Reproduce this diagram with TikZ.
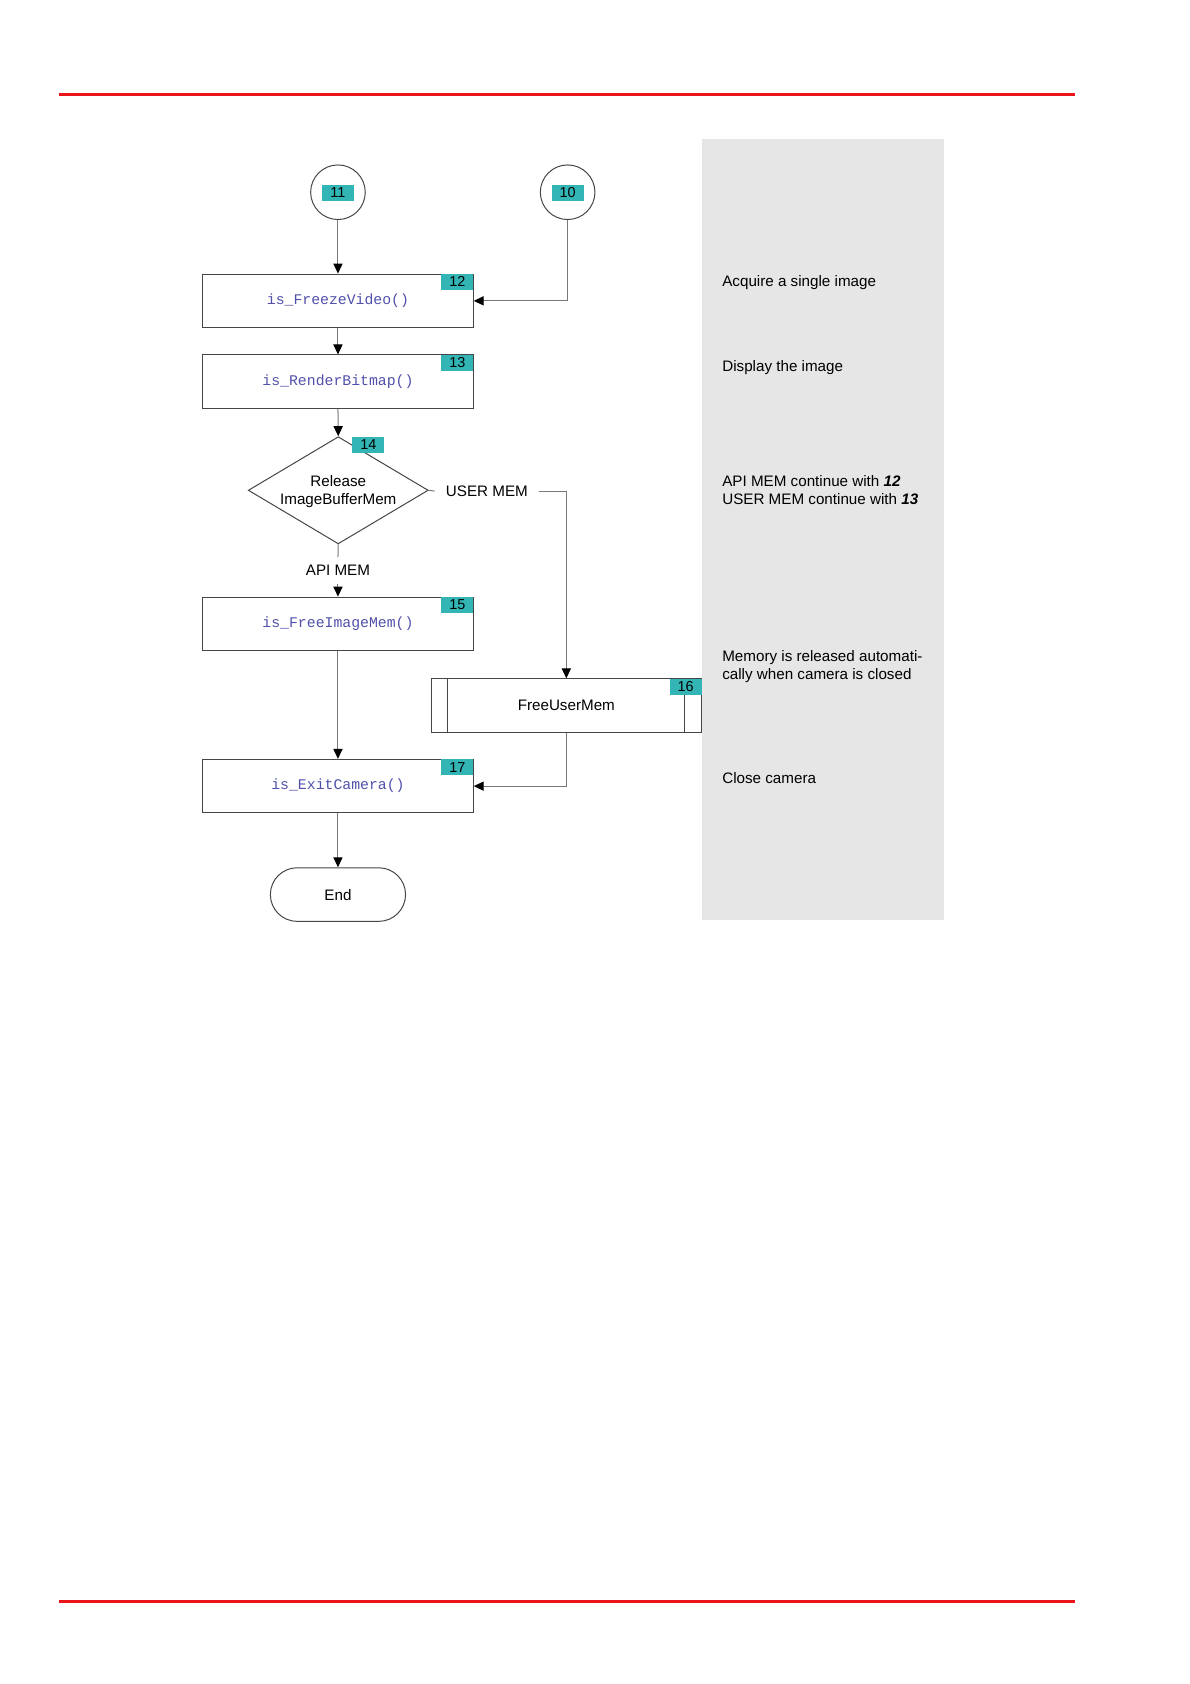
\documentclass[tikz,border=0pt]{standalone}
\usepackage{fontspec}
\setmainfont{Liberation Sans}
\setmonofont{Liberation Mono}
\usetikzlibrary{arrows.meta,shapes.geometric}
\definecolor{redline}{RGB}{236,20,28}
\definecolor{panel}{RGB}{230,230,230}
\definecolor{tagc}{RGB}{51,181,181}
\definecolor{codec}{RGB}{80,80,170}
\definecolor{boxline}{RGB}{70,70,70}
\definecolor{conline}{RGB}{120,120,120}
\begin{document}
\begin{tikzpicture}[x=0.5pt,y=-0.50065pt,
  txt/.style={font=\fontsize{7.6}{9}\selectfont},
  sidetxt/.style={txt,anchor=west,inner sep=0pt,align=left},
  procbox/.style={draw=boxline,line width=0.5pt,minimum width=135.3pt,minimum height=26.8pt,inner sep=0pt,font=\fontsize{7.4}{9}\ttfamily,text=codec},
  subbox/.style={draw=boxline,line width=0.5pt,minimum width=135.2pt,minimum height=26.8pt,inner sep=0pt,txt},
  tagbox/.style={fill=tagc,minimum width=16pt,minimum height=8pt,inner sep=0pt,font=\fontsize{7.2}{8}\selectfont},
  conn/.style={draw=conline,line width=0.5pt},
  arr/.style={conn,-{Triangle[length=5pt,width=4.6pt,color=black,fill=black]}},
  connector/.style={circle,draw=boxline,line width=0.5pt,minimum size=27.3pt,inner sep=0pt},
  endbox/.style={draw=boxline,line width=0.5pt,rounded corners=13.4pt,minimum width=67.6pt,minimum height=26.8pt,inner sep=0pt,txt},
  decision/.style={diamond,draw=boxline,line width=0.5pt,minimum width=90pt,minimum height=53.6pt,inner sep=0pt},
  lbl/.style={txt,fill=white,inner xsep=5.5pt,inner ysep=4pt}
]
\useasboundingbox (0,0) rectangle (1190,1682);
% red rules
\draw[redline,line width=1.75pt] (59,94.4) -- (1075,94.4);
\draw[redline,line width=1.75pt] (59,1599.4) -- (1075,1599.4);
% grey comment panel
\fill[panel] (701.6,138.4) rectangle (944,919);

% connectors (circles)
\node[connector] (c11) at (338,192) {};
\node[tagbox] (t11) at (338,192.6) {11};
\node[connector] (c10) at (567.7,192) {};
\node[tagbox] (t10) at (567.7,192.6) {10};

% process boxes
\node[procbox] (b12) at (338,300.5) {is\_FreezeVideo()};
\node[tagbox,anchor=north east] (t12) at (b12.north east) {12};
\node[procbox] (b13) at (338,381.3) {is\_RenderBitmap()};
\node[tagbox,anchor=north east] (t13) at (b13.north east) {13};

% decision
\node[decision] (dia) at (338.3,489.7) {};
\node[txt,align=center,inner sep=0pt] (diat) at ([yshift=-0.5pt]dia.center) {Release\\ImageBufferMem};
\node[tagbox,anchor=north west] (t14) at (352,435.7) {14};

\node[lbl] (user) at (487,490.5) {USER MEM};
\node[lbl] (api) at (338,570) {API MEM};

\node[procbox] (b15) at (338,623.2) {is\_FreeImageMem()};
\node[tagbox,anchor=north east] (t15) at (b15.north east) {15};

\node[subbox] (b16) at (566.4,704.8) {FreeUserMem};
\node[tagbox,anchor=north east] (t16) at (b16.north east) {16};
\draw[boxline,line width=0.5pt] ([xshift=8.6pt]b16.north west) -- ([xshift=8.6pt]b16.south west);
\draw[boxline,line width=0.5pt] ([xshift=-8.6pt]t16.south east) -- ([xshift=-8.6pt]b16.south east);

\node[procbox] (b17) at (338,785.2) {is\_ExitCamera()};
\node[tagbox,anchor=north east] (t17) at (b17.north east) {17};

\node[endbox] (end) at (338,893.5) {End};

% flow
\draw[arr] (c11.south) -- (b12.north);
\draw[arr] (c10.south) |- (b12.east);
\draw[arr] (b12.south) -- (b13.north);
\draw[arr] (b13.south) -- (dia.north);
\draw[conn] (dia.east) -- (user.west);
\draw[arr] (user.east) -| (b16.north);
\draw[conn] (dia.south) -- (api.north);
\draw[arr] (api.south) -- (b15.north);
\draw[arr] (b15.south) -- (b17.north);
\draw[arr] (b16.south) |- (b17.east);
\draw[arr] (b17.south) -- (end.north);

% side comments
\node[sidetxt] (s1) at (722,282.5) {Acquire a single image};
\node[sidetxt] (s2) at (722,367) {Display the image};
\node[sidetxt] (s3) at (722,489.5) {API MEM continue with \textbf{\textit{12}}\\USER MEM continue with \textbf{\textit{13}}};
\node[sidetxt] (s4) at (722,666) {Memory is released automati-\\cally when camera is closed};
\node[sidetxt] (s5) at (722,777) {Close camera};
\end{tikzpicture}
\end{document}
